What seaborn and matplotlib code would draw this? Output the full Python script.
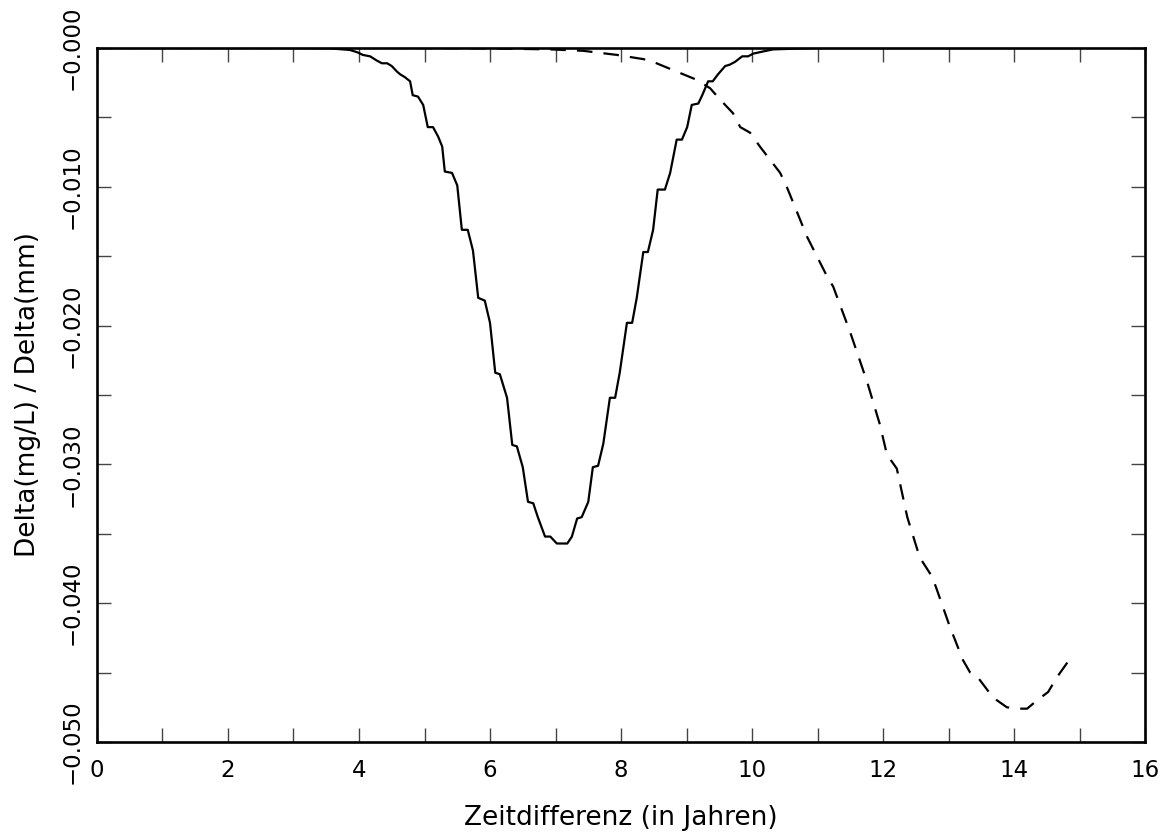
import numpy as np
import pandas as pd
import seaborn as sns
import matplotlib
matplotlib.use("Agg")
import matplotlib.pyplot as plt
from matplotlib.ticker import MultipleLocator, FixedLocator, FixedFormatter

# solid curve
solid_x = [0.0, 3.0, 3.56, 3.86, 3.97, 4.06, 4.17, 4.27, 4.35, 4.43, 4.50, 4.58, 4.63, 4.70,
           4.78, 4.82, 4.90, 4.98, 5.05, 5.13, 5.21, 5.27, 5.31, 5.42, 5.50, 5.57, 5.66,
           5.74, 5.82, 5.92, 6.00, 6.08, 6.15, 6.26, 6.34, 6.41, 6.50, 6.58, 6.66, 6.73,
           6.84, 6.92, 7.02, 7.18, 7.25, 7.33, 7.40, 7.50, 7.57, 7.65, 7.73, 7.83, 7.91,
           7.98, 8.09, 8.17, 8.24, 8.34, 8.41, 8.49, 8.56, 8.67, 8.75, 8.85, 8.93, 9.01,
           9.08, 9.18, 9.24, 9.33, 9.40, 9.48, 9.59, 9.66, 9.74, 9.85, 9.94, 10.02, 10.12,
           10.32, 11.0, 14.93]
solid_y = [0.0, 0.0, -0.00003, -0.00014, -0.0003, -0.0005, -0.0006, -0.0009, -0.0011,
           -0.0011, -0.0013, -0.0017, -0.0019, -0.0021, -0.0024, -0.0034, -0.0035, -0.0041,
           -0.0057, -0.0057, -0.0064, -0.0071, -0.0089, -0.0090, -0.0099, -0.0131, -0.0131,
           -0.0146, -0.0180, -0.0182, -0.0198, -0.0234, -0.0235, -0.0252, -0.0286, -0.0287,
           -0.0302, -0.0327, -0.0328, -0.0338, -0.0352, -0.0352, -0.0357, -0.0357, -0.0352,
           -0.0339, -0.0338, -0.0327, -0.0302, -0.0301, -0.0285, -0.0252, -0.0252, -0.0234,
           -0.0198, -0.0198, -0.0180, -0.0147, -0.0147, -0.0131, -0.0102, -0.0102, -0.0090,
           -0.0066, -0.0066, -0.0057, -0.0041, -0.0040, -0.0034, -0.0024, -0.0024, -0.0019,
           -0.0013, -0.0012, -0.0010, -0.0006, -0.0006, -0.0004, -0.0003, -0.0001, 0.0, 0.0]

# dashed curve
dash_x = [0.0, 5.0, 6.0, 6.92, 7.42, 7.94, 8.34, 8.44, 8.85, 9.16, 9.36, 9.51, 9.71, 9.82,
          9.97, 10.12, 10.43, 10.53, 10.84, 11.15, 11.24, 11.50, 11.76, 11.95, 12.06, 12.21,
          12.37, 12.56, 12.75, 12.82, 13.02, 13.22, 13.33, 13.44, 13.68, 13.89, 14.05,
          14.20, 14.35, 14.52, 14.66, 14.78, 14.90]
dash_y = [0.0, 0.0, -0.00003, -0.0001, -0.0002, -0.0005, -0.0008, -0.0009, -0.0017,
          -0.0023, -0.0029, -0.0037, -0.0047, -0.0057, -0.0061, -0.0071, -0.0090, -0.0100,
          -0.0136, -0.0165, -0.0172, -0.0205, -0.0241, -0.0271, -0.0293, -0.0303, -0.0338,
          -0.0367, -0.0381, -0.0390, -0.0417, -0.0441, -0.0450, -0.0453, -0.0468, -0.0475,
          -0.0476, -0.0476, -0.0470, -0.0464, -0.0453, -0.0445, -0.0437]

y_ticks = [0.0, -0.01, -0.02, -0.03, -0.04, -0.05]
y_labels = ["\u22120.000", "\u22120.010", "\u22120.020", "\u22120.030", "\u22120.040", "\u22120.050"]

sns.set_theme(style="ticks")
plt.rcParams['font.family'] = ['DejaVu Sans']

fig = plt.figure(figsize=(11.67, 8.32), dpi=100)
ax = fig.add_axes([0.0831, 0.1082, 0.8981, 0.8341])

sns.lineplot(x=solid_x, y=solid_y, ax=ax, color="black", linewidth=1.6, sort=False)
sns.lineplot(x=dash_x, y=dash_y, ax=ax, color="black", linewidth=1.6, sort=False,
             linestyle=(0, (7, 5)))

ax.set_xlim(0, 16)
ax.set_ylim(-0.05, 0.0)

ax.xaxis.set_major_locator(MultipleLocator(2))
ax.xaxis.set_minor_locator(MultipleLocator(1))
ax.yaxis.set_major_locator(FixedLocator(y_ticks))
ax.yaxis.set_major_formatter(FixedFormatter(y_labels))
ax.yaxis.set_minor_locator(MultipleLocator(0.005))

ax.tick_params(which="both", direction="in", top=True, right=True, length=10,
               width=1.0, color="#444444", labelsize=16.5, labelcolor="black")
ax.tick_params(axis="x", pad=12)
ax.tick_params(axis="y", pad=10)
for lbl in ax.get_yticklabels():
    lbl.set_rotation(90)
    lbl.set_va("center")

for sp in ax.spines.values():
    sp.set_linewidth(1.9)
    sp.set_color("black")

ax.set_xlabel("Zeitdifferenz (in Jahren)", fontsize=19, labelpad=17, color="black")
ax.set_ylabel("Delta(mg/L) / Delta(mm)", fontsize=19, labelpad=14, color="black")

fig.savefig("out.png", dpi=100, facecolor="white")
